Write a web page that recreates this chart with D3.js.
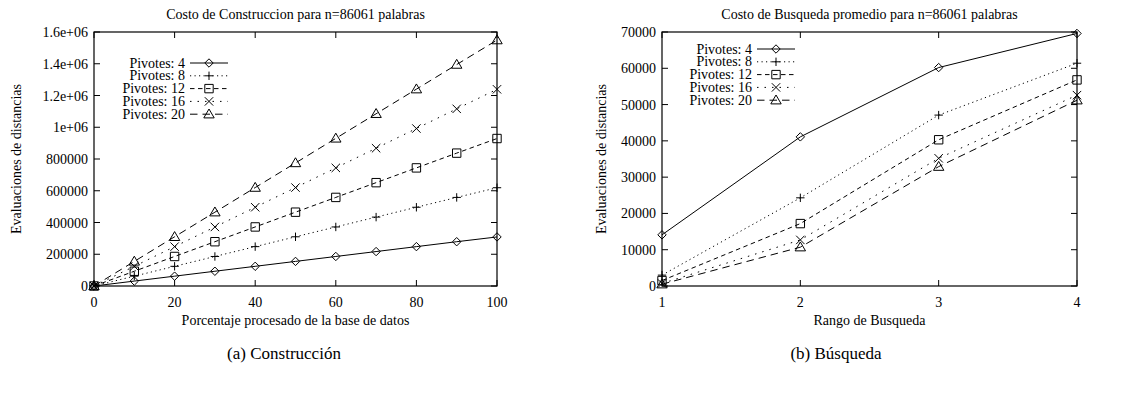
<!DOCTYPE html>
<html>
<head>
<meta charset="utf-8">
<script src="https://cdn.jsdelivr.net/npm/d3@7"></script>
<style>
  body { margin: 0; background: #fff; }
</style>
</head>
<body>
<div id="chart"></div>
<script>
// ---- data ----
const seriesNames = ["Pivotes: 4", "Pivotes: 8", "Pivotes: 12", "Pivotes: 16", "Pivotes: 20"];

const porcentaje = [0, 10, 20, 30, 40, 50, 60, 70, 80, 90, 100];
const constr4  = [0, 31000, 62000, 93000, 124000, 155000, 186000, 217000, 248000, 279000, 309000];
const constr8  = [0, 62000, 124000, 186000, 248000, 310000, 372000, 434000, 496000, 558000, 619000];
const constr12 = [0, 93000, 186000, 279000, 372000, 465000, 558000, 651000, 744000, 837000, 929000];
const constr16 = [0, 124000, 248000, 372000, 496000, 620000, 744000, 868000, 992000, 1116000, 1239000];
const constr20 = [0, 155000, 310000, 465000, 620000, 775000, 930000, 1085000, 1240000, 1395000, 1549000];

const rango = [1, 2, 3, 4];
const busq4  = [14100, 41100, 60200, 69600];
const busq8  = [3000, 24300, 47100, 61400];
const busq12 = [1500, 17200, 40300, 56800];
const busq16 = [700, 12700, 35200, 52600];
const busq20 = [500, 10700, 32900, 51200];

const constrXTicks = [0, 20, 40, 60, 80, 100];
const constrYTicks = [0, 200000, 400000, 600000, 800000, 1000000, 1200000, 1400000, 1600000];
const constrYLabels = ["0", "200000", "400000", "600000", "800000", "1e+06", "1.2e+06", "1.4e+06", "1.6e+06"];
const busqXTicks = [1, 2, 3, 4];
const busqYTicks = [0, 10000, 20000, 30000, 40000, 50000, 60000, 70000];

const dashes = [null, "1.2,3.3", "4.5,3.5", "1.5,6", "7.5,5"];
const symbols = ["diamond", "plus", "square", "cross", "triangle"];

const FONT = "'Liberation Serif', 'DejaVu Serif', serif";
const W = 1128, H = 395;
const svg = d3.select("#chart").append("svg").attr("width", W).attr("height", H);

function txt(g, x, y, s, size, anchor) {
  return g.append("text").attr("x", x).attr("y", y).attr("text-anchor", anchor || "middle")
    .attr("font-family", FONT).attr("font-size", size).attr("fill", "#000").text(s);
}

function marker(g, type, cx, cy) {
  const s = 4.2;
  let p;
  if (type === "diamond") p = `M${cx},${cy - s}L${cx + s},${cy}L${cx},${cy + s}L${cx - s},${cy}Z`;
  else if (type === "plus") p = `M${cx - s},${cy}H${cx + s}M${cx},${cy - s}V${cy + s}`;
  else if (type === "square") p = `M${cx - s},${cy - s}H${cx + s}V${cy + s}H${cx - s}Z`;
  else if (type === "cross") p = `M${cx - s},${cy - s}L${cx + s},${cy + s}M${cx + s},${cy - s}L${cx - s},${cy + s}`;
  else p = `M${cx},${cy - s - 1}L${cx + s + 1},${cy + s - 0.5}L${cx - s - 1},${cy + s - 0.5}Z`;
  g.append("path").attr("d", p).attr("fill", "none").attr("stroke", "#000").attr("stroke-width", 1);
}

function panel(opt) {
  const x = d3.scaleLinear().domain(opt.xDomain).range([opt.x0, opt.x1]);
  const y = d3.scaleLinear().domain(opt.yDomain).range([opt.yb, opt.yt]);
  const g = svg.append("g");

  // ticks (inside, mirrored like gnuplot)
  const tl = 6;
  opt.xTicks.forEach(t => {
    g.append("line").attr("x1", x(t)).attr("x2", x(t)).attr("y1", opt.yb).attr("y2", opt.yb - tl).attr("stroke", "#000");
    g.append("line").attr("x1", x(t)).attr("x2", x(t)).attr("y1", opt.yt).attr("y2", opt.yt + tl).attr("stroke", "#000");
    txt(g, x(t), opt.yb + 21, t, 14);
  });
  opt.yTicks.forEach((t, i) => {
    g.append("line").attr("x1", opt.x0).attr("x2", opt.x0 + tl).attr("y1", y(t)).attr("y2", y(t)).attr("stroke", "#000");
    g.append("line").attr("x1", opt.x1).attr("x2", opt.x1 - tl).attr("y1", y(t)).attr("y2", y(t)).attr("stroke", "#000");
    txt(g, opt.x0 - 6, y(t) + 5, opt.yLabels ? opt.yLabels[i] : t, 14, "end");
  });

  g.append("rect").attr("x", opt.x0).attr("y", opt.yt).attr("width", opt.x1 - opt.x0).attr("height", opt.yb - opt.yt)
    .attr("fill", "none").attr("stroke", "#000").attr("stroke-width", 1.2);

  const line = d3.line().x(d => x(d[0])).y(d => y(d[1]));
  opt.series.forEach((vals, k) => {
    const pts = opt.xs.map((v, i) => [v, vals[i]]);
    g.append("path").datum(pts).attr("d", line).attr("fill", "none").attr("stroke", "#000")
      .attr("stroke-width", 1).attr("stroke-dasharray", dashes[k]);
    pts.forEach(p => marker(g, symbols[k], x(p[0]), y(p[1])));
  });

  // legend
  seriesNames.forEach((name, k) => {
    const ly = opt.legY + k * 12.8;
    txt(g, opt.legX, ly + 4.5, name, 14, "end");
    g.append("line").attr("x1", opt.legX + 5).attr("x2", opt.legX + 43).attr("y1", ly).attr("y2", ly)
      .attr("stroke", "#000").attr("stroke-dasharray", dashes[k]);
    marker(g, symbols[k], opt.legX + 24, ly);
  });

  txt(g, (opt.x0 + opt.x1) / 2, 19, opt.title, 14);
  txt(g, (opt.x0 + opt.x1) / 2, 325, opt.xLabel, 14);
  g.append("text").attr("transform", `translate(${opt.yLabX},${(opt.yt + opt.yb) / 2}) rotate(-90)`)
    .attr("text-anchor", "middle").attr("font-family", FONT).attr("font-size", 14)
    .text("Evaluaciones de distancias");
  txt(g, opt.capX, 359, opt.caption, 17);
}

panel({
  x0: 94, x1: 497, yt: 32, yb: 286,
  xDomain: [0, 100], yDomain: [0, 1600000],
  xTicks: constrXTicks, yTicks: constrYTicks, yLabels: constrYLabels,
  xs: porcentaje, series: [constr4, constr8, constr12, constr16, constr20],
  legX: 185, legY: 63,
  title: "Costo de Construccion para n=86061 palabras",
  xLabel: "Porcentaje procesado de la base de datos",
  yLabX: 21, capX: 284, caption: "(a) Construcción"
});

panel({
  x0: 662, x1: 1077, yt: 32, yb: 286,
  xDomain: [1, 4], yDomain: [0, 70000],
  xTicks: busqXTicks, yTicks: busqYTicks,
  xs: rango, series: [busq4, busq8, busq12, busq16, busq20],
  legX: 752, legY: 49,
  title: "Costo de Busqueda promedio para n=86061 palabras",
  xLabel: "Rango de Busqueda",
  yLabX: 606, capX: 836, caption: "(b) Búsqueda"
});
</script>
</body>
</html>
